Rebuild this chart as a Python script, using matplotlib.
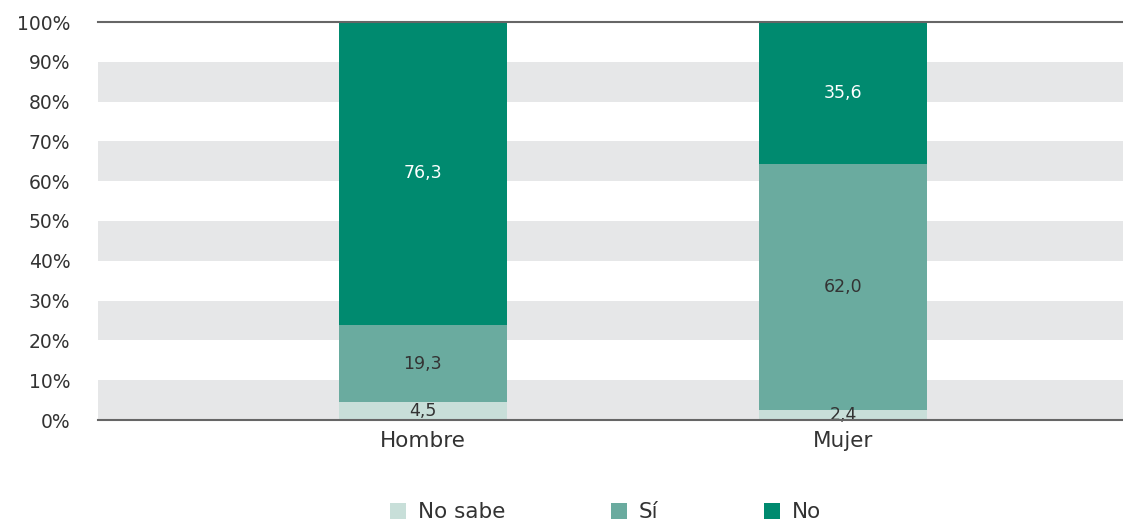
import matplotlib
matplotlib.use("Agg")
import matplotlib.pyplot as plt
from matplotlib.patches import Patch

categories = ["Hombre", "Mujer"]
series_names = ["No sabe", "Sí", "No"]
no_sabe = [4.5, 2.4]
si = [19.3, 62.0]
no = [76.3, 35.6]
label_no_sabe = ["4,5", "2,4"]
label_si = ["19,3", "62,0"]
label_no = ["76,3", "35,6"]
yticks = [0, 10, 20, 30, 40, 50, 60, 70, 80, 90, 100]
ytick_labels = [f"{v}%" for v in yticks]

colors = ["#C8DFD9", "#6AAB9F", "#008A6F"]
text_colors = ["#333333", "#333333", "#FFFFFF"]
band_color = "#E6E7E8"

plt.rcParams['font.family'] = ['DejaVu Sans']

fig = plt.figure(figsize=(11.23, 5.24), dpi=100)
ax = fig.add_axes([98/1123, 1-420/524, 1-98/1123, (420-22)/524])

x = list(range(len(categories)))
width = 0.4
series = [no_sabe, si, no]
labels = [label_no_sabe, label_si, label_no]

for lo in range(0, 100, 20):
    ax.axhspan(lo, lo + 10, color=band_color, zorder=0, lw=0)

bottoms = [0.0] * len(categories)
for vals, col, tc, labs in zip(series, colors, text_colors, labels):
    ax.bar(x, vals, width=width, bottom=bottoms, color=col, zorder=2, lw=0)
    for i, (v, b, lab) in enumerate(zip(vals, bottoms, labs)):
        ax.text(x[i], b + v / 2, lab, ha='center', va='center', color=tc,
                fontsize=12.5, zorder=3)
    bottoms = [b + v for b, v in zip(bottoms, vals)]

ax.set_ylim(0, 100)
ax.set_xlim(-0.773, 1.666)
ax.set_yticks(yticks)
ax.set_yticklabels(ytick_labels, fontsize=13.5, color="#333333")
ax.set_xticks(x)
ax.set_xticklabels(categories, fontsize=15.5, color="#333333")
ax.tick_params(axis='y', length=0, pad=20)
ax.tick_params(axis='x', length=0, pad=8)
for s in ['left', 'right']:
    ax.spines[s].set_visible(False)
for s in ['top', 'bottom']:
    ax.spines[s].set_color("#666666")
    ax.spines[s].set_linewidth(1.5)
    ax.spines[s].set_zorder(4)

handles = [Patch(facecolor=c, edgecolor='none') for c in colors]
fig.legend(handles, series_names, loc='center', bbox_to_anchor=(0.539, 0.022),
           ncol=3, frameon=False, fontsize=15.5, handlelength=0.75, handleheight=0.75,
           columnspacing=4.9, handletextpad=0.55, labelcolor="#333333")

fig.savefig("out.png", dpi=100)
